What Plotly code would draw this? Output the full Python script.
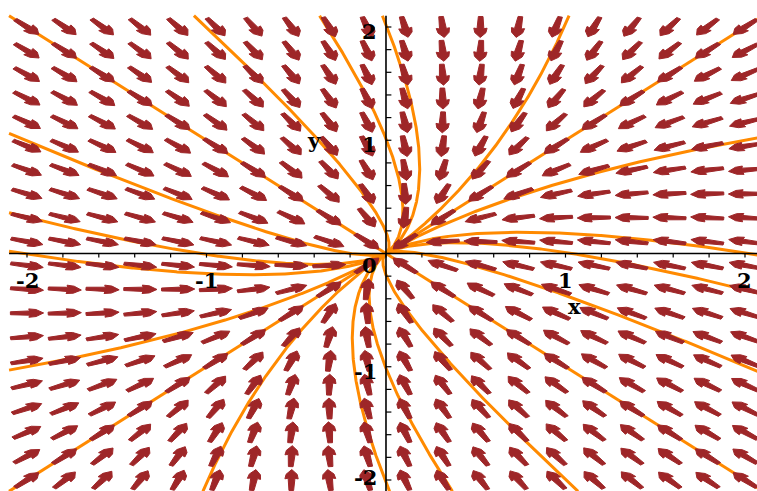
import numpy as np
import plotly.graph_objects as go

# Linear system  x' = -4x + y,  y' = x - 4y
A11, A12 = -4.0, 1.0
A21, A22 = 1.0, -4.0

# direction-field grid
grid_n = 20
grid_lo, grid_hi = -2.0, 2.0

# initial conditions of the solution curves (upper half; the lower half is mirrored through the origin)
ic_x = [-1.07, -2.1, -2.1, -2.1, -2.1, -0.37, -0.02, 1.02, 2.1, 2.1]
ic_y = [2.1, 2.1, 1.06, 0.36, 0.02, 2.1, 2.1, 2.1, 2.1, 1.03]

# axis ticks and labels
tick_step = 0.2
tick_labels_x = [-2, -1, 1, 2]
tick_labels_y = [2, 1, -1, -2]

view = 2.1
ARROW_COL = "rgb(158,38,40)"
CURVE_COL = "#ff8a00"

# ---- solution curves (exact solution in eigen-coordinates) ----
lam_slow = A11 + A12   # eigenvector (1, 1)
lam_fast = A11 - A12   # eigenvector (1, -1)
t = np.concatenate([np.linspace(-0.6, 0.0, 800), np.linspace(0.0, 5.0, 4000)[1:]])

all_x0 = ic_x + [-v for v in ic_x]
all_y0 = ic_y + [-v for v in ic_y]

cx, cy = [], []
for x0, y0 in zip(all_x0, all_y0):
    u0 = (x0 + y0) / 2.0
    w0 = (x0 - y0) / 2.0
    u = u0 * np.exp(lam_slow * t)
    w = w0 * np.exp(lam_fast * t)
    xs = u + w
    ys = u - w
    inside = (np.abs(xs) <= view + 1e-9) & (np.abs(ys) <= view + 1e-9)
    xs = xs[inside]
    ys = ys[inside]
    cx.extend(xs.tolist() + [None])
    cy.extend(ys.tolist() + [None])

# ---- arrows of the direction field (outline in local along/across coordinates) ----
shape_s = [-0.0925, 0.015, 0.010, 0.050, 0.0925, 0.050, 0.010, 0.015, -0.0925, -0.0925]
shape_n = [0.013, 0.019, 0.037, 0.031, 0.0, -0.031, -0.037, -0.019, -0.013, 0.013]

gv = np.linspace(grid_lo, grid_hi, grid_n)
ax_, ay_ = [], []
for gx in gv:
    for gy in gv:
        vx = A11 * gx + A12 * gy
        vy = A21 * gx + A22 * gy
        m = np.hypot(vx, vy)
        dx, dy = vx / m, vy / m
        nx, ny = -dy, dx
        for s, n in zip(shape_s, shape_n):
            ax_.append(gx + s * dx + n * nx)
            ay_.append(gy + s * dy + n * ny)
        ax_.append(None)
        ay_.append(None)

fig = go.Figure()
fig.add_trace(go.Scatter(x=cx, y=cy, mode="lines",
                         line=dict(color=CURVE_COL, width=3),
                         hoverinfo="skip", showlegend=False))
fig.add_trace(go.Scatter(x=ax_, y=ay_, mode="lines", fill="toself",
                         fillcolor=ARROW_COL, line=dict(color=ARROW_COL, width=1),
                         hoverinfo="skip", showlegend=False))

# ---- axes through the origin ----
fig.add_trace(go.Scatter(x=[-view, view, None, 0, 0], y=[0, 0, None, -view, view],
                         mode="lines", line=dict(color="black", width=1.6),
                         hoverinfo="skip", showlegend=False))
ticks = np.round(np.arange(-2.0, 2.0001, tick_step), 6)
tx, ty = [], []
for v in ticks:
    tx += [v, v, None]
    ty += [0, -0.036, None]
    tx += [0, 0.03, None]
    ty += [v, v, None]
fig.add_trace(go.Scatter(x=tx, y=ty, mode="lines",
                         line=dict(color="black", width=1.2),
                         hoverinfo="skip", showlegend=False))

lab_font = dict(family="DejaVu Serif, Liberation Serif, serif", size=21, color="black")
ann = []
for v in tick_labels_x:
    ann.append(dict(x=v, y=-0.24, text=f"<b>{v}</b>", showarrow=False,
                    xanchor="center", yanchor="middle", font=lab_font))
for v in tick_labels_y:
    yl = v - 0.04 if v > -2 else v + 0.02
    ann.append(dict(x=-0.04, y=yl, text=f"<b>{v}</b>", showarrow=False,
                    xanchor="right", yanchor="middle", font=lab_font))
ann.append(dict(x=-0.04, y=-0.11, text="<b>0</b>", showarrow=False,
                xanchor="right", yanchor="middle", font=lab_font))
ann.append(dict(x=1.05, y=-0.47, text="<b>x</b>", showarrow=False,
                xanchor="center", yanchor="middle", font=lab_font))
ann.append(dict(x=-0.40, y=1.00, text="<b>y</b>", showarrow=False,
                xanchor="center", yanchor="middle", font=lab_font))

fig.update_layout(
    width=757, height=491,
    margin=dict(l=0, r=0, t=0, b=0, pad=0),
    paper_bgcolor="white", plot_bgcolor="white",
    xaxis=dict(range=[-2.1504, 2.0669], visible=False, fixedrange=True),
    yaxis=dict(range=[-2.0971, 2.2384], visible=False, fixedrange=True),
    annotations=ann,
    showlegend=False,
)

fig.write_html("out.html")
